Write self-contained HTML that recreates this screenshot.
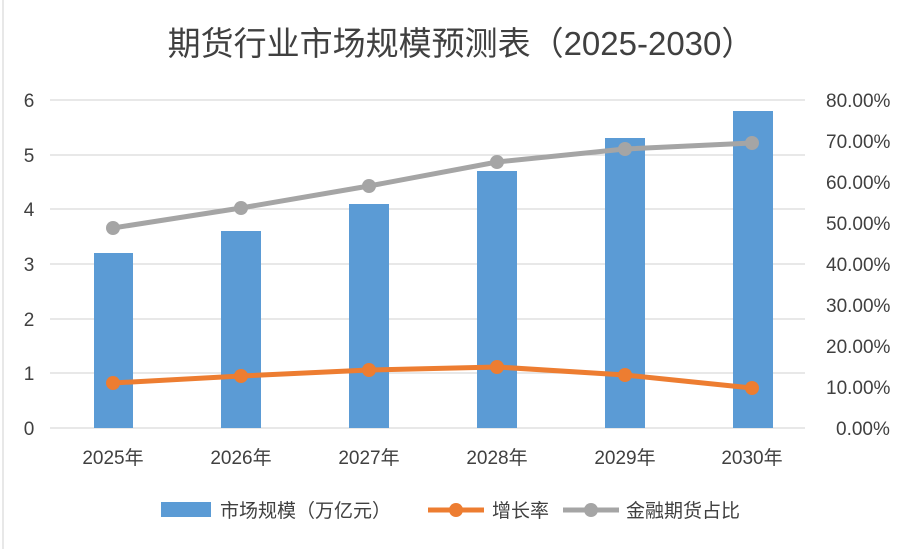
<!DOCTYPE html>
<html><head><meta charset="utf-8"><style>
body{margin:0;background:#fff;}
svg{display:block;font-family:"Liberation Sans","Noto Sans CJK SC",sans-serif;}
</style></head><body>
<svg width="920" height="549" viewBox="0 0 920 549">
<rect x="0" y="0" width="920" height="549" fill="#fff"/>
<line x1="3" y1="0" x2="3" y2="549" stroke="#d0d0d0"/>
<text x="461" y="55" font-size="33" fill="#404040" text-anchor="middle" font-family="Liberation Sans, Noto Sans CJK SC, sans-serif">期货行业市场规模预测表（2025-2030）</text>
<g stroke="#d9d9d9" stroke-width="1.3">
<line x1="50" y1="100" x2="805" y2="100"/>
<line x1="50" y1="155" x2="805" y2="155"/>
<line x1="50" y1="209" x2="805" y2="209"/>
<line x1="50" y1="264" x2="805" y2="264"/>
<line x1="50" y1="319" x2="805" y2="319"/>
<line x1="50" y1="373" x2="805" y2="373"/>
<line x1="50" y1="428" x2="805" y2="428"/>
</g>
<g font-size="19" fill="#404040" text-anchor="middle">
<text x="29" y="107">6</text><text x="29" y="162">5</text><text x="29" y="216">4</text>
<text x="29" y="271">3</text><text x="29" y="326">2</text><text x="29" y="380">1</text><text x="29" y="435">0</text>
</g>
<g font-size="19" fill="#404040" text-anchor="start">
<text x="826" y="107">80.00%</text><text x="826" y="148">70.00%</text><text x="826" y="189">60.00%</text>
<text x="826" y="230">50.00%</text><text x="826" y="271">40.00%</text><text x="826" y="312">30.00%</text>
<text x="826" y="353">20.00%</text><text x="826" y="394">10.00%</text><text x="836" y="435">0.00%</text>
</g>
<g fill="#5b9bd5">
<rect x="94" y="253" width="39" height="175"/>
<rect x="221" y="231" width="40" height="197"/>
<rect x="349" y="204" width="40" height="224"/>
<rect x="477" y="171" width="40" height="257"/>
<rect x="605" y="138" width="40" height="290"/>
<rect x="733" y="111" width="40" height="317"/>
</g>
<polyline points="113,228 241,208 369,186 497,162 625,149 752,143" fill="none" stroke="#a5a5a5" stroke-width="5"/>
<g fill="#a5a5a5"><circle cx="113" cy="228" r="7"/><circle cx="241" cy="208" r="7"/><circle cx="369" cy="186" r="7"/><circle cx="497" cy="162" r="7"/><circle cx="625" cy="149" r="7"/><circle cx="752" cy="143" r="7"/></g>
<polyline points="113,383 241,376 369,370 497,367 625,375 752,388" fill="none" stroke="#ed7d31" stroke-width="5"/>
<g fill="#ed7d31"><circle cx="113" cy="383" r="7"/><circle cx="241" cy="376" r="7"/><circle cx="369" cy="370" r="7"/><circle cx="497" cy="367" r="7"/><circle cx="625" cy="375" r="7"/><circle cx="752" cy="388" r="7"/></g>
<g font-size="19" fill="#404040" text-anchor="middle">
<text x="113" y="464">2025年</text><text x="241" y="464">2026年</text><text x="369" y="464">2027年</text>
<text x="497" y="464">2028年</text><text x="625" y="464">2029年</text><text x="752" y="464">2030年</text>
</g>
<rect x="161" y="502" width="50" height="15" fill="#5b9bd5"/>
<text x="220" y="517" font-size="19" fill="#404040">市场规模（万亿元）</text>
<line x1="428" y1="510" x2="484" y2="510" stroke="#ed7d31" stroke-width="5"/><circle cx="456" cy="510" r="7" fill="#ed7d31"/>
<text x="492" y="517" font-size="19" fill="#404040">增长率</text>
<line x1="563" y1="510" x2="619" y2="510" stroke="#a5a5a5" stroke-width="5"/><circle cx="591" cy="510" r="7" fill="#a5a5a5"/>
<text x="626" y="517" font-size="19" fill="#404040">金融期货占比</text>
</svg>
</body></html>
